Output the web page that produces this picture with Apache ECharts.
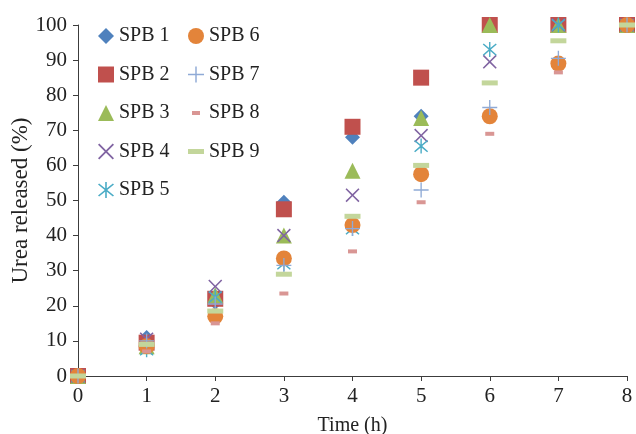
<!DOCTYPE html>
<html>
<head>
<meta charset="utf-8">
<script src="https://cdn.jsdelivr.net/npm/echarts@6/dist/echarts.min.js"></script>
<style>
  html, body { margin: 0; padding: 0; background: #fff; }
  #chart { width: 636px; height: 434px; }
</style>
</head>
<body>
<div id="chart"></div>
<script>
  // 数据 - 时间 (h) 与各样品的尿素释放量 (%)
  const hours = [0, 1, 2, 3, 4, 5, 6, 7, 8]
  const spb1 = [0, 11, 21, 49.5, 68, 74, 100, 100, 100]
  const spb2 = [0, 9.5, 22, 47.5, 71, 85, 100, 100, 100]
  const spb3 = [0, 8.5, 23, 40, 58.5, 73.5, 100, 100, 100]
  const spb4 = [0, 10.5, 25.5, 40, 51.5, 68.5, 89.5, 100, 100]
  const spb5 = [0, 7.5, 22.5, 32, 42, 65.5, 93, 100, 100]
  const spb6 = [0, 8.5, 17, 33.5, 43, 57.5, 74, 89, 100]
  const spb7 = [0, 10, 20.5, 31.5, 42, 53, 76.5, 90.5, 100]
  const spb8 = [0, 7, 15, 23.5, 35.5, 49.5, 69, 86.5, 100]
  const spb9 = [0, 9, 18.5, 29, 45.5, 60, 83.5, 95.5, 100]
  const names = ['SPB 1', 'SPB 2', 'SPB 3', 'SPB 4', 'SPB 5', 'SPB 6', 'SPB 7', 'SPB 8', 'SPB 9']

  // 符号路径
  const xPath = 'path://M0,0.8 L0.8,0 L5,4.2 L9.2,0 L10,0.8 L5.8,5 L10,9.2 L9.2,10 L5,5.8 L0.8,10 L0,9.2 L4.2,5 Z'
  const plusPath = 'path://M4.55,0 H5.45 V4.55 H10 V5.45 H5.45 V10 H4.55 V5.45 H0 V4.55 H4.55 Z'
  const starPath = 'path://M4.5,0 H5.5 V10 H4.5 Z M0,1.6 L0.7,0.9 L5,4.3 L9.3,0.9 L10,1.6 L5.8,5 L10,8.4 L9.3,9.1 L5,5.7 L0.7,9.1 L0,8.4 L4.2,5 Z'
  // 图例用的短横线(带空白边距)
  const dashSmall = 'path://M0,0 M16,16 M4,6 H12 V10 H4 Z'
  const dashLong = 'path://M0,0 M16,16 M0,5.5 H16 V10.5 H0 Z'

  const seriesDef = [
    {data: spb1, symbol: 'diamond', size: 15, color: '#4F81BD'},
    {data: spb2, symbol: 'rect', size: 16, color: '#C0504D'},
    {data: spb3, symbol: 'triangle', size: 16, color: '#9BBB59'},
    {data: spb4, symbol: xPath, size: 14, color: '#8064A2'},
    {data: spb5, symbol: starPath, size: [14, 15], color: '#4BACC6'},
    {data: spb6, symbol: 'circle', size: 16, color: '#E3843A'},
    {data: spb7, symbol: plusPath, size: 15, color: '#8FAAD6'},
    {data: spb8, symbol: 'rect', size: [9, 4], color: '#D99694'},
    {data: spb9, symbol: 'rect', size: [16, 5], color: '#C3D69B'},
  ]
  const legendIcons = ['diamond', 'rect', 'triangle', xPath, starPath, 'circle', plusPath, dashSmall, dashLong]

  const font = 'Liberation Serif'
  const textColor = '#222'
  const axisColor = '#3c3c3c'

  let series = seriesDef.map((s, i) => ({
    name: names[i],
    type: 'scatter',
    data: hours.map((h, k) => [h, s.data[k]]),
    symbol: s.symbol,
    symbolSize: s.size,
    itemStyle: {color: s.color, opacity: 1},
    z: 2 + i
  }))

  const legendItem = (i) => ({name: names[i], icon: legendIcons[i]})
  const legendText = {fontFamily: font, fontSize: 20, color: textColor}

  let myChart = echarts.init(document.getElementById('chart'), null, {renderer: 'canvas'})
  let option = {
    animation: false,
    grid: {left: 78, right: 9, top: 25, bottom: 58, outerBoundsMode: 'none', containLabel: false},
    legend: [
      {
        orient: 'vertical', left: 93, top: 21,
        itemWidth: 16, itemHeight: 16, itemGap: 18.5,
        textStyle: legendText,
        data: [0, 1, 2, 3, 4].map(legendItem)
      },
      {
        orient: 'vertical', left: 183, top: 21,
        itemWidth: 16, itemHeight: 16, itemGap: 18.5,
        textStyle: legendText,
        data: [5, 6, 7, 8].map(legendItem)
      }
    ],
    xAxis: {
      type: 'value', min: 0, max: 8, interval: 1,
      name: 'Time (h)', nameLocation: 'middle', nameGap: 40,
      nameTextStyle: {fontFamily: font, fontSize: 20, color: textColor},
      axisLine: {lineStyle: {color: axisColor, width: 1}},
      axisTick: {length: 5, lineStyle: {color: axisColor}},
      axisLabel: {fontFamily: font, fontSize: 21, color: textColor, margin: 10},
      splitLine: {show: false}
    },
    yAxis: {
      type: 'value', min: 0, max: 100, interval: 10,
      name: 'Urea released (%)', nameLocation: 'middle', nameGap: 46, nameMoveOverlap: false,
      nameTextStyle: {fontFamily: font, fontSize: 23, color: textColor},
      axisLine: {show: true, lineStyle: {color: axisColor, width: 1}},
      axisTick: {show: true, length: 5, lineStyle: {color: axisColor}},
      axisLabel: {fontFamily: font, fontSize: 21, color: textColor, margin: 11},
      splitLine: {show: false}
    },
    series: series
  }
  myChart.setOption(option)
</script>
</body>
</html>
